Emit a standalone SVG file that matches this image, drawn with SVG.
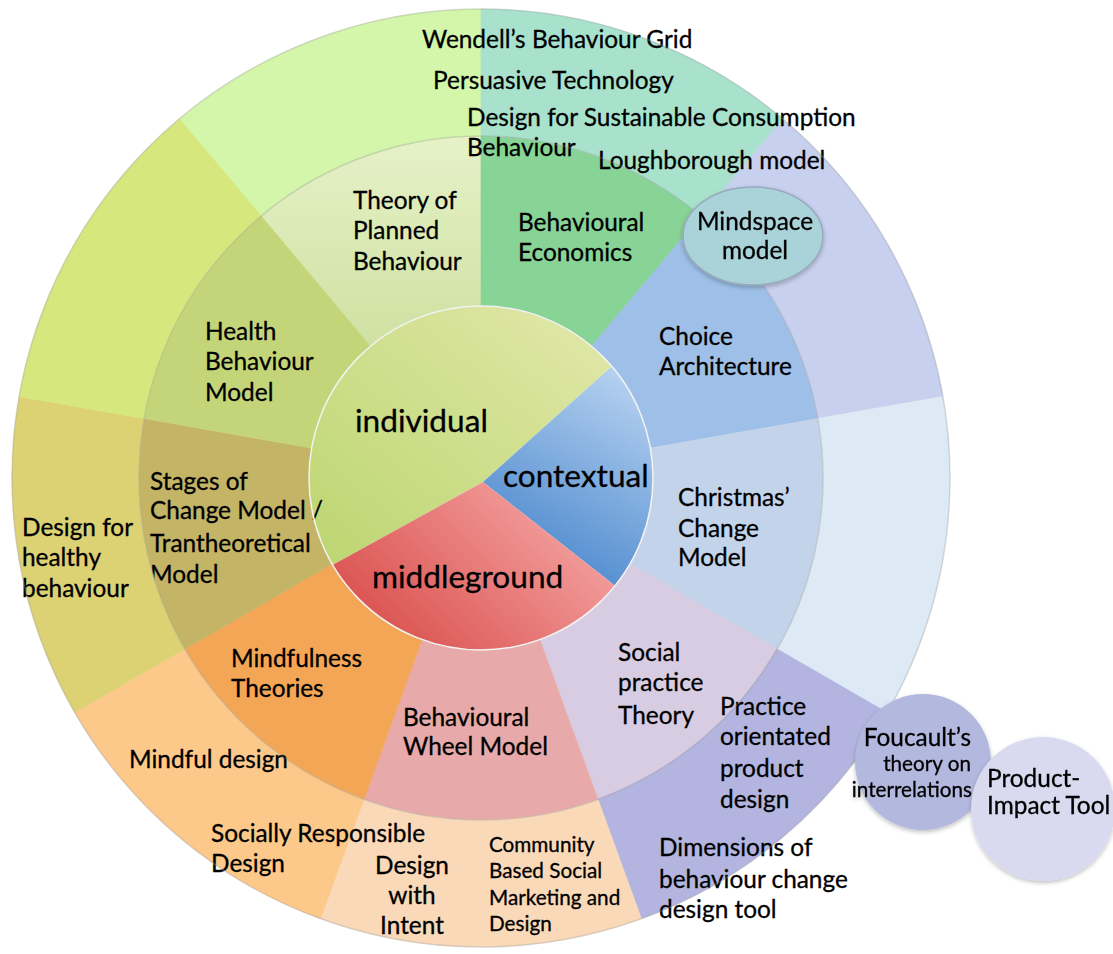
<svg xmlns="http://www.w3.org/2000/svg" width="1113" height="954" viewBox="0 0 1113 954">
<defs>
<style>
.t{font-family:Lato,"Open Sans","Liberation Sans",sans-serif;font-size:24.4px;fill:#000;stroke:#000;stroke-width:0.3px}
.s{font-size:20.7px}
.big{font-size:31.6px}
.e{text-anchor:end}
.m{text-anchor:middle}
.sec{stroke-width:0.6}
</style>
<linearGradient id="gInd" x1="0" y1="1" x2="1" y2="0"><stop offset="0" stop-color="#bcd570"/><stop offset="1" stop-color="#e2e8aa"/></linearGradient>
<linearGradient id="gCon" x1="0.75" y1="0" x2="0.3" y2="1"><stop offset="0" stop-color="#b5d1f0"/><stop offset="1" stop-color="#4483cb"/></linearGradient>
<linearGradient id="gMid" x1="0" y1="0.8" x2="1" y2="0.2"><stop offset="0" stop-color="#d84b49"/><stop offset="1" stop-color="#f6aba9"/></linearGradient>
<linearGradient id="gTpb" x1="0" y1="0" x2="0" y2="1"><stop offset="0" stop-color="#e6f1c8"/><stop offset="1" stop-color="#cfe1a2"/></linearGradient>
<filter id="sh" x="-20%" y="-20%" width="140%" height="140%"><feGaussianBlur in="SourceAlpha" stdDeviation="2"/><feOffset dx="0" dy="2" result="b"/><feFlood flood-color="#000" flood-opacity="0.25"/><feComposite in2="b" operator="in"/><feMerge><feMergeNode/><feMergeNode in="SourceGraphic"/></feMerge></filter>
</defs>
<rect width="1113" height="954" fill="#fff"/>

<!-- inner ring -->
<g id="individual"><path d="M483 482 L332.6 565 A172 172 0 0 1 611.8 366.3 Z" fill="url(#gInd)"/><text class="t big" x="355" y="432">individual</text></g>
<g id="contextual"><path d="M483 482 L611.8 366.3 A172 172 0 0 1 615 585.8 Z" fill="url(#gCon)"/><text class="t big" x="503" y="487">contextual</text></g>
<g id="middleground"><path d="M483 482 L615 585.8 A172 172 0 0 1 332.6 565 Z" fill="url(#gMid)"/><text class="t big" x="372" y="588">middleground</text></g>

<!-- middle ring -->
<g id="theory-planned"><path class="sec" d="M261.2 216 A342 342 0 0 1 481 136 L481 306 A172 172 0 0 0 370.4 346.2 Z" fill="url(#gTpb)" stroke="#dae9b6"/><text class="t" x="353" y="209">Theory of</text><text class="t" x="353" y="239">Planned</text><text class="t" x="353" y="270">Behaviour</text></g>
<g id="behavioural-economics"><path class="sec" d="M481 136 A342 342 0 0 1 700.8 216 L591.6 346.2 A172 172 0 0 0 481 306 Z" fill="#88d396" stroke="#88d396"/><text class="t" x="518" y="231">Behavioural</text><text class="t" x="518" y="261">Economics</text></g>
<g id="choice-architecture"><path class="sec" d="M700.8 216 A342 342 0 0 1 817.8 418.6 L650.4 448.1 A172 172 0 0 0 591.6 346.2 Z" fill="#9ebfe7" stroke="#9ebfe7"/><text class="t" x="659" y="345">Choice</text><text class="t" x="659" y="375">Architecture</text></g>
<g id="christmas-change"><path class="sec" d="M817.8 418.6 A342 342 0 0 1 777.2 649 L630 564 A172 172 0 0 0 650.4 448.1 Z" fill="#c3d4ea" stroke="#c3d4ea"/><text class="t" x="678" y="506">Christmas’</text><text class="t" x="678" y="537">Change</text><text class="t" x="678" y="566">Model</text></g>
<g id="social-practice"><path class="sec" d="M777.2 649 A342 342 0 0 1 598 799.4 L539.8 639.6 A172 172 0 0 0 630 564 Z" fill="#d7cce1" stroke="#d7cce1"/><text class="t" x="618" y="661">Social</text><text class="t" x="618" y="691">practice</text><text class="t" x="618" y="724">Theory</text></g>
<g id="behavioural-wheel"><path class="sec" d="M598 799.4 A342 342 0 0 1 364 799.4 L422.2 639.6 A172 172 0 0 0 539.8 639.6 Z" fill="#e7a9a9" stroke="#e7a9a9"/><text class="t" x="403" y="726">Behavioural</text><text class="t" x="403" y="755">Wheel Model</text></g>
<g id="mindfulness"><path class="sec" d="M364 799.4 A342 342 0 0 1 184.8 649 L332 564 A172 172 0 0 0 422.2 639.6 Z" fill="#f3a756" stroke="#f3a756"/><text class="t" x="231" y="667">Mindfulness</text><text class="t" x="231" y="697">Theories</text></g>
<g id="stages-of-change"><path class="sec" d="M184.8 649 A342 342 0 0 1 144.2 418.6 L311.6 448.1 A172 172 0 0 0 332 564 Z" fill="#c4b466" stroke="#c4b466"/><text class="t" x="150" y="490">Stages of</text><text class="t" x="150" y="519">Change Model /</text><text class="t" x="150" y="552">Trantheoretical</text><text class="t" x="150" y="583">Model</text></g>
<g id="health-behaviour"><path class="sec" d="M144.2 418.6 A342 342 0 0 1 261.2 216 L370.4 346.2 A172 172 0 0 0 311.6 448.1 Z" fill="#c4d579" stroke="#c4d579"/><text class="t" x="205" y="340">Health</text><text class="t" x="205" y="370">Behaviour</text><text class="t" x="205" y="401">Model</text></g>

<!-- outer ring -->
<g id="outer-lightgreen"><path class="sec" d="M179.5 118.7 A469 469 0 0 1 481 9 L481 136 A342 342 0 0 0 261.2 216 Z" fill="#d4f6ab" stroke="#d4f6ab"/></g>
<g id="outer-lavender"><path class="sec" d="M782.5 118.7 A469 469 0 0 1 942.9 396.6 L817.8 418.6 A342 342 0 0 0 700.8 216 Z" fill="#c8d0ef" stroke="#c8d0ef"/></g>
<g id="outer-lightblue"><path class="sec" d="M942.9 396.6 A469 469 0 0 1 887.2 712.5 L777.2 649 A342 342 0 0 0 817.8 418.6 Z" fill="#dde9f4" stroke="#dde9f4"/></g>
<g id="outer-teal"><path class="sec" d="M481 9 A469 469 0 0 1 782.5 118.7 L700.8 216 A342 342 0 0 0 481 136 Z" fill="#a8e2cd" stroke="#a8e2cd"/><text class="t" x="422" y="48">Wendell’s Behaviour Grid</text><text class="t" x="433" y="89">Persuasive Technology</text><text class="t" x="467" y="126">Design for Sustainable Consumption</text><text class="t" x="467" y="156">Behaviour</text><text class="t" x="598" y="169">Loughborough model</text></g>
<g id="outer-purple"><path class="sec" d="M887.2 712.5 A469 469 0 0 1 641.4 918.7 L598 799.4 A342 342 0 0 0 777.2 649 Z" fill="#b3b5e0" stroke="#b3b5e0"/><text class="t" x="720" y="715">Practice</text><text class="t" x="720" y="745">orientated</text><text class="t" x="720" y="777">product</text><text class="t" x="720" y="808">design</text><text class="t" x="659" y="856">Dimensions of</text><text class="t" x="659" y="888">behaviour change</text><text class="t" x="659" y="918">design tool</text></g>
<g id="outer-peach"><path class="sec" d="M641.4 918.7 A469 469 0 0 1 320.6 918.7 L364 799.4 A342 342 0 0 0 598 799.4 Z" fill="#fad9b9" stroke="#fad9b9"/><text class="t m" x="412" y="874">Design</text><text class="t m" x="412" y="904">with</text><text class="t m" x="412" y="934">Intent</text><text class="t s" x="489" y="852">Community</text><text class="t s" x="489" y="878">Based Social</text><text class="t s" x="489" y="905">Marketing and</text><text class="t s" x="489" y="931">Design</text></g>
<g id="outer-orange"><path class="sec" d="M320.6 918.7 A469 469 0 0 1 74.8 712.5 L184.8 649 A342 342 0 0 0 364 799.4 Z" fill="#fcc98b" stroke="#fcc98b"/><text class="t" x="129" y="768">Mindful design</text><text class="t" x="211" y="842">Socially Responsible</text><text class="t" x="211" y="872">Design</text></g>
<g id="outer-olive"><path class="sec" d="M74.8 712.5 A469 469 0 0 1 19.1 396.6 L144.2 418.6 A342 342 0 0 0 184.8 649 Z" fill="#dcd274" stroke="#dcd274"/><text class="t" x="22" y="536">Design for</text><text class="t" x="22" y="566">healthy</text><text class="t" x="22" y="597">behaviour</text></g>
<g id="outer-yellowgreen"><path class="sec" d="M19.1 396.6 A469 469 0 0 1 179.5 118.7 L261.2 216 A342 342 0 0 0 144.2 418.6 Z" fill="#d6e77d" stroke="#d6e77d"/></g>

<!-- ring edges -->
<g id="edges" fill="none">
<circle cx="481" cy="478" r="469" stroke="#a0a0a0" stroke-opacity="0.35" stroke-width="1.5"/>
<circle cx="481" cy="478" r="342" stroke="#909090" stroke-opacity="0.3" stroke-width="1.5"/>
<circle cx="481" cy="478" r="172" stroke="#f2f2f2" stroke-width="1.5"/>
</g>

<!-- bubbles -->
<g id="mindspace" filter="url(#sh)"><ellipse cx="753" cy="236" rx="70" ry="49" fill="#a9d3d8" stroke="#98a9bd" stroke-width="1.5"/><text class="t m" x="755" y="230">Mindspace</text><text class="t m" x="755" y="259">model</text></g>
<g id="foucault" filter="url(#sh)"><circle cx="923" cy="762" r="68" fill="#b3b8de"/><text class="t e" x="971" y="746">Foucault’s</text><text class="t s e" x="971" y="771">theory on</text><text class="t s e" x="972" y="797">interrelations</text></g>
<g id="product-impact" filter="url(#sh)"><circle cx="1043" cy="809" r="72" fill="#d9d9f0"/><text class="t" x="987" y="787">Product-</text><text class="t" x="987" y="814">Impact Tool</text></g>
</svg>
